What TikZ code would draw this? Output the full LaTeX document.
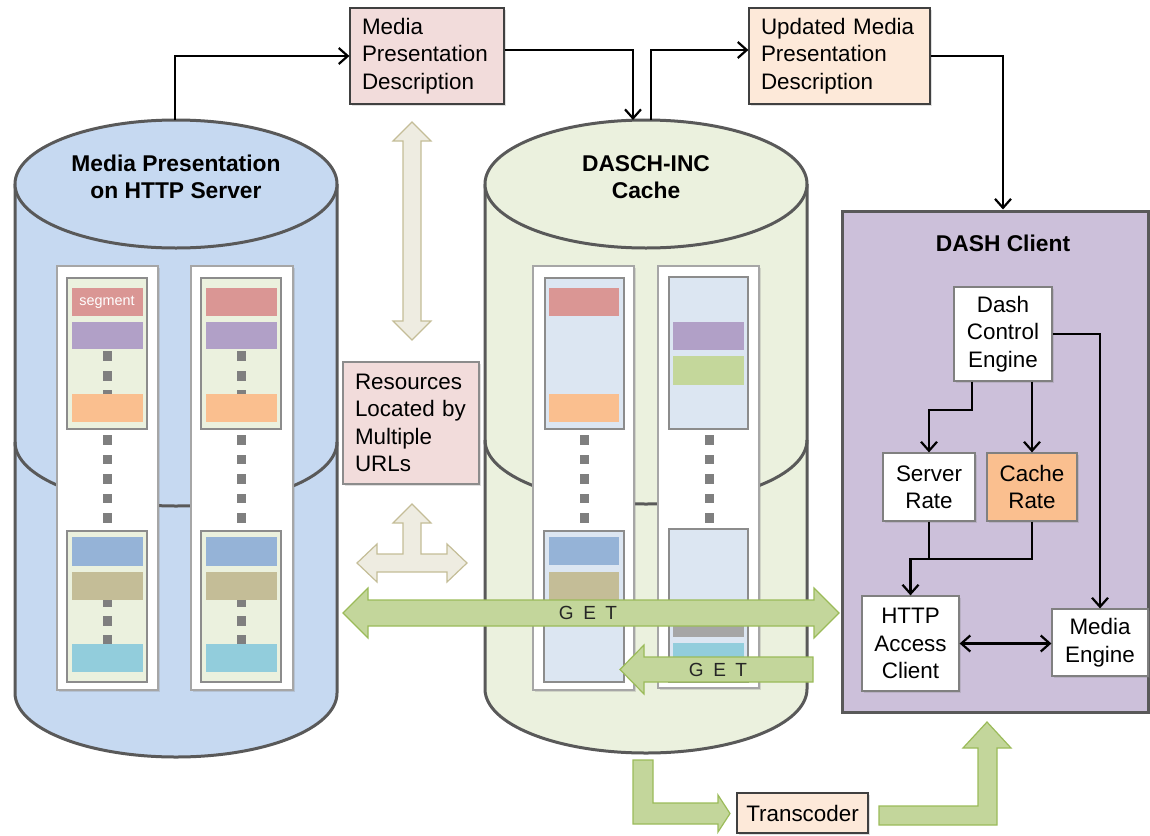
\documentclass[tikz,border=0pt]{standalone}
\usepackage{fontspec}
\setmainfont{Liberation Sans}
\usepackage{xcolor}
\usetikzlibrary{arrows.meta,shadows,calc}

\definecolor{drumline}{HTML}{595959}
\definecolor{srvblue}{HTML}{C6D9F1}
\definecolor{cachegreen}{HTML}{EBF1DE}
\definecolor{paleblue}{HTML}{DCE6F2}
\definecolor{segred}{HTML}{DA9694}
\definecolor{segpurple}{HTML}{B1A0C7}
\definecolor{segorange}{HTML}{FABF8F}
\definecolor{segblue}{HTML}{95B3D7}
\definecolor{segtan}{HTML}{C4BD97}
\definecolor{segcyan}{HTML}{92CDDC}
\definecolor{seggreen}{HTML}{C4D79B}
\definecolor{seggray}{HTML}{A6A6A6}
\definecolor{dotgray}{HTML}{7F7F7F}
\definecolor{mpdpink}{HTML}{F2DCDB}
\definecolor{mpdpeach}{HTML}{FDE9D9}
\definecolor{clientlilac}{HTML}{CCC0DA}
\definecolor{getfill}{HTML}{C3D69B}
\definecolor{getline}{HTML}{9BBB59}
\definecolor{beigefill}{HTML}{EEECE1}
\definecolor{beigeline}{HTML}{C4BD97}

\newcommand\boxfont{\fontsize{11.2}{13.7}\selectfont}

\begin{document}
\begin{tikzpicture}
   [
   x=0.5pt, y=-0.5pt,
   softshadow/.style={drop shadow={opacity=0.25, shadow xshift=1.2pt, shadow yshift=-1.2pt}},
   drum/.style={draw=drumline, line width=1.5pt},
   panel/.style={draw=black!35, fill=white, line width=0.6pt, softshadow},
   segbox/.style={draw=black!45, line width=0.6pt},
   segtext/.style={font=\fontsize{7.2}{8}\selectfont, text=white, inner sep=0pt},
   drumtitle/.style={font=\bfseries\fontsize{11.4}{13.5}\selectfont, align=center},
   plainbox/.style={rectangle, draw=black!75, line width=0.6pt, font=\boxfont, softshadow},
   mpdbox/.style={plainbox, align=left, inner xsep=6pt, minimum height=48pt},
   urlbox/.style={plainbox, draw=black!45, fill=mpdpink, align=left, text width=56pt, inner xsep=6pt, minimum height=61pt},
   clientbox/.style={rectangle, draw=drumline, line width=1.5pt, fill=clientlilac, minimum width=153pt, minimum height=250.5pt, softshadow},
   enginebox/.style={plainbox, draw=black!50, fill=white, align=center, inner sep=1pt},
   getarrow/.style={draw=getline, fill=getfill, line width=0.6pt},
   beigearrow/.style={draw=beigeline, fill=beigefill, line width=0.6pt},
   gettext/.style={font=\fontsize{9.5}{11}\selectfont, text=black!85},
   conn/.style={draw=black, line width=1.1pt, -{Straight Barb[length=4.5pt,width=8pt]}},
   ]
 \useasboundingbox (0,0) rectangle (1150,835);

 % server drum
 \fill[srvblue] (15,184) -- (15,693) arc[start angle=180, end angle=0, x radius=161, y radius=64] -- (337,184) -- cycle;
 \draw[drum] (15,184) -- (15,693) arc[start angle=180, end angle=0, x radius=161, y radius=64] -- (337,184);
 \draw[drum] (15,442) arc[start angle=180, end angle=0, x radius=161, y radius=64];
 \filldraw[drum, fill=srvblue] (176,184) ellipse[x radius=161, y radius=64];
 \node at (176,177) [drumtitle] (srvtitle) {Media Presentation\\on HTTP Server};
 \coordinate (srvtop) at (175,120);

 % cache drum
 \fill[cachegreen] (485,184) -- (485,689) arc[start angle=180, end angle=0, x radius=161, y radius=64] -- (807,184) -- cycle;
 \draw[drum] (485,184) -- (485,689) arc[start angle=180, end angle=0, x radius=161, y radius=64] -- (807,184);
 \draw[drum] (485,440) arc[start angle=180, end angle=0, x radius=161, y radius=64];
 \filldraw[drum, fill=cachegreen] (646,184) ellipse[x radius=161, y radius=64];
 \node at (646,177) [drumtitle] (cachetitle) {DASCH-INC\\Cache};
 \coordinate (cachein) at (633,120);
 \coordinate (cacheout) at (651,120);

 % representations on the server
 \filldraw[panel] (57,266) rectangle (158,690);
 \filldraw[panel] (191,266) rectangle (293,690);
 \filldraw[segbox, fill=cachegreen] (67,278) rectangle (147,429);
 \filldraw[segbox, fill=cachegreen] (67,531) rectangle (147,682);
 \filldraw[segbox, fill=cachegreen] (201,278) rectangle (281,429);
 \filldraw[segbox, fill=cachegreen] (201,531) rectangle (281,682);
 \foreach \x in {107,241}
   \foreach \y in {351,371,390,597,616,635}
     \fill[dotgray] (\x-4.5,\y) rectangle ++(9,9.5);
 \fill[segred] (72,288) rectangle (143,316);
 \fill[segpurple] (72,322) rectangle (143,349);
 \fill[segorange] (72,394) rectangle (143,422);
 \fill[segblue] (72,537) rectangle (143,566);
 \fill[segtan] (72,572) rectangle (143,600);
 \fill[segcyan] (72,644) rectangle (143,672);
 \fill[segred] (206,288) rectangle (277,316);
 \fill[segpurple] (206,322) rectangle (277,349);
 \fill[segorange] (206,394) rectangle (277,422);
 \fill[segblue] (206,537) rectangle (277,566);
 \fill[segtan] (206,572) rectangle (277,600);
 \fill[segcyan] (206,644) rectangle (277,672);
 \node at (107,302) [segtext] (segname) {segment};

 % representations in the cache
 \filldraw[panel] (533,266) rectangle (634,690);
 \filldraw[panel] (658,266) rectangle (759,688);
 \filldraw[segbox, fill=paleblue] (545,278) rectangle (624,429);
 \filldraw[segbox, fill=paleblue] (544,531) rectangle (624,682);
 \filldraw[segbox, fill=paleblue] (669,277) rectangle (748,429);
 \filldraw[segbox, fill=paleblue] (669,529) rectangle (748,682);
 \fill[segred] (549,288) rectangle (619,316);
 \fill[segorange] (549,394) rectangle (619,422);
 \fill[segblue] (549,537) rectangle (619,565);
 \fill[segtan] (549,572) rectangle (619,600);
 \fill[segpurple] (673,322) rectangle (744,350);
 \fill[seggreen] (673,356) rectangle (744,385);
 \fill[seggray] (673,625) rectangle (744,637);
 \fill[segcyan] (673,643) rectangle (744,671);

 \foreach \x in {107,241,584,709}
   \foreach \y in {435,454.5,474,493.5,513}
     \fill[dotgray] (\x-4.5,\y) rectangle ++(9,9.5);

 % beige arrows
 \filldraw[beigearrow] (412,122) -- (431,141) -- (421,141) -- (421,321) -- (431,321) -- (412,340)
   -- (393,321) -- (403,321) -- (403,141) -- (393,141) -- cycle;
 \filldraw[beigearrow] (412,504) -- (431,523) -- (421,523) -- (421,554) -- (447,554) -- (447,544)
   -- (467,563) -- (447,582) -- (447,572) -- (377,572) -- (377,582) -- (357,563) -- (377,544)
   -- (377,554) -- (403,554) -- (403,523) -- (393,523) -- cycle;

 % GET requests
 \filldraw[getarrow] (343,613) -- (368,588) -- (368,600) -- (814,600) -- (814,588) -- (839,613)
   -- (814,638) -- (814,626) -- (368,626) -- (368,638) -- cycle;
 \node at (588,613) [gettext] (getlong) {G\enspace E\enspace T};
 \filldraw[getarrow] (620,669.5) -- (644,645) -- (644,657) -- (813,657) -- (813,682) -- (644,682)
   -- (644,694) -- cycle;
 \node at (718,669.5) [gettext] (getshort) {G\enspace E\enspace T};

 % descriptions
 \node at (427,56) [mpdbox, fill=mpdpink, text width=65pt] (mpd) {Media\\Presentation\\Description};
 \node at (839.5,56) [mpdbox, fill=mpdpeach, text width=78.5pt] (umpd) {Updated Media\\Presentation\\Description};
 \node at (411,423) [urlbox] (urls) {Resources\\Located by\\Multiple\\URLs};

 % DASH client
 \node at (995,461.5) [clientbox] (client) {};
 \node at (1003,243) [drumtitle] (clienttitle) {DASH Client};
 \node at (1003,334) [enginebox, minimum width=49pt, minimum height=47pt] (dce) {Dash\\Control\\Engine};
 \node at (929,487) [enginebox, minimum width=46pt, minimum height=34pt] (srate) {Server\\Rate};
 \node at (1032,487) [enginebox, fill=segorange, minimum width=45pt, minimum height=34pt] (crate) {Cache\\Rate};
 \node at (910.5,643.5) [enginebox, minimum width=48.5pt, minimum height=47.5pt] (hac) {HTTP\\Access\\Client};
 \node at (1100,642.5) [enginebox, minimum width=48pt, minimum height=33.5pt] (mengine) {Media\\Engine};

 % transcoder
 \node at (802.5,813) [plainbox, fill=mpdpeach, minimum width=65.5pt, minimum height=20pt] (trans) {Transcoder};
 \filldraw[getarrow] (633,760) -- (653,760) -- (653,803) -- (718,803) -- (718,795) -- (730,813.5)
   -- (718,832) -- (718,824) -- (633,824) -- cycle;
 \filldraw[getarrow] (879,806) -- (978,806) -- (978,748) -- (963,748) -- (987,722) -- (1011,748)
   -- (997,748) -- (997,825) -- (879,825) -- cycle;

 % description flow
 \draw[conn] (srvtop) |- (mpd.west);
 \draw[conn] ($(mpd.east)+(0,-6)$) -| (cachein);
 \draw[conn] (cacheout) |- ($(umpd.west)+(0,-6)$);
 \draw[conn] (umpd.east) -| ($(client.north)+(8,0)$);

 % inside the client
 \draw[conn] ($(dce.south)+(-31,0)$) -- ++(0,28) -| (srate.north);
 \draw[conn] (dce.south -| crate.north) -- (crate.north);
 \draw[conn] (dce.east) -| (mengine.north);
 \draw[line width=1.1pt] (srate.south) -- ++(0,37);
 \draw[conn] (crate.south) -- ++(0,37) -| (hac.north);
 \draw[conn, {Straight Barb[length=4.5pt,width=8pt]}-{Straight Barb[length=4.5pt,width=8pt]}] (hac.east) -- (hac.east -| mengine.west);
\end{tikzpicture}
\end{document}
